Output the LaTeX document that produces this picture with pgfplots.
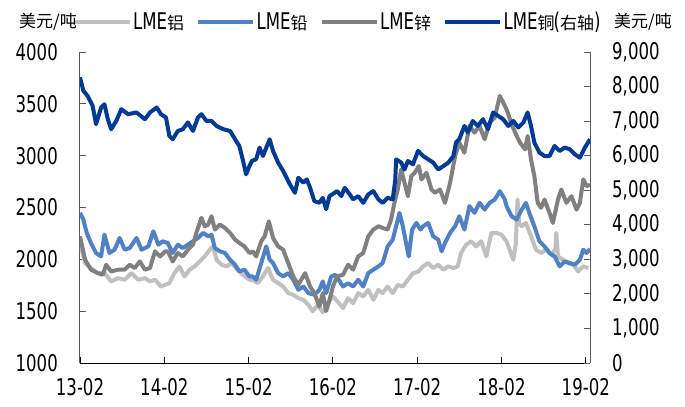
\documentclass[border=0pt]{standalone}
\usepackage{fontspec}
\setmainfont{DejaVu Sans}[FakeStretch=0.72]
\newfontfamily\cjk{Noto Sans CJK SC}
\usepackage{pgfplots}
\pgfplotsset{compat=1.18}
\usepackage{pgfplotstable}

\definecolor{alcol}{RGB}{192,192,192}
\definecolor{pbcol}{RGB}{79,129,196}
\definecolor{zncol}{RGB}{128,128,128}
\definecolor{cucol}{RGB}{0,58,150}
\definecolor{axcol}{RGB}{90,90,90}
\newcommand{\zh}[1]{{\fontsize{17bp}{19bp}\cjk #1}}

\pgfplotstableread{
t v
0.00 8265
0.04 7877
0.09 7730
0.15 7440
0.19 6910
0.25 7390
0.29 7490
0.33 7055
0.37 6765
0.43 7005
0.49 7345
0.57 7200
0.67 7250
0.77 7055
0.83 7250
0.91 7395
0.96 7200
1.02 7105
1.06 6570
1.10 6475
1.16 6715
1.22 6765
1.28 6960
1.34 6715
1.40 7105
1.44 7200
1.50 7005
1.56 7005
1.62 6860
1.70 6765
1.78 6715
1.84 6475
1.89 6280
1.93 5895
1.97 5460
2.01 5700
2.04 5850
2.09 5895
2.13 6235
2.17 5990
2.25 6475
2.29 6135
2.35 5800
2.41 5555
2.49 5170
2.55 4925
2.59 5360
2.65 5220
2.69 5315
2.73 5070
2.78 4685
2.84 4635
2.88 4780
2.92 4450
2.96 4830
3.02 4925
3.05 4975
3.10 4830
3.14 5070
3.20 4880
3.24 4735
3.30 4830
3.36 4635
3.42 4880
3.48 4975
3.54 4735
3.59 4635
3.65 4780
3.71 4735
3.74 5300
3.75 5895
3.81 5800
3.85 5600
3.89 5845
3.95 5750
4.01 6140
4.07 5990
4.13 5895
4.19 5800
4.25 5600
4.31 5700
4.37 5800
4.43 5990
4.46 6380
4.50 6475
4.56 6860
4.60 6670
4.66 7005
4.72 6860
4.78 7055
4.84 6765
4.90 7250
4.96 7150
5.02 7055
5.08 6860
5.14 7005
5.20 6815
5.26 6960
5.31 7250
5.35 6860
5.39 6380
5.45 6090
5.51 5990
5.57 5990
5.63 6280
5.69 6135
5.75 6235
5.81 6185
5.87 6040
5.93 5940
5.99 6235
6.05 6475
}\copper

\pgfplotstableread{
t v
0.00 2222
0.06 1996
0.13 1900
0.21 1867
0.27 1851
0.31 1948
0.37 1883
0.45 1900
0.53 1900
0.59 1948
0.65 1916
0.71 1980
0.77 1900
0.83 1916
0.89 2077
0.95 2028
1.01 2077
1.04 2077
1.10 1980
1.16 2061
1.22 2028
1.28 2093
1.34 2141
1.38 2255
1.44 2400
1.48 2319
1.52 2335
1.56 2416
1.60 2287
1.66 2335
1.72 2303
1.78 2255
1.84 2190
1.89 2158
1.95 2125
2.01 2061
2.05 2077
2.09 2028
2.15 2174
2.19 2222
2.24 2367
2.29 2206
2.35 2125
2.41 2093
2.47 1964
2.53 1835
2.59 1754
2.67 1867
2.73 1738
2.78 1674
2.84 1545
2.88 1674
2.92 1500
2.96 1609
3.00 1738
3.05 1835
3.12 1851
3.18 1948
3.24 1900
3.30 2028
3.36 2061
3.42 2222
3.48 2287
3.54 2319
3.59 2303
3.65 2287
3.69 2384
3.73 2545
3.77 2674
3.81 2867
3.85 2738
3.89 2609
3.93 2803
3.97 2835
4.02 2900
4.05 2771
4.11 2835
4.17 2674
4.21 2642
4.27 2674
4.33 2545
4.39 2738
4.45 2996
4.50 3126
4.56 3029
4.62 3287
4.68 3223
4.74 3287
4.80 3158
4.86 3320
4.92 3368
4.98 3577
5.04 3480
5.06 3448
5.12 3303
5.18 3190
5.22 3126
5.28 3061
5.31 3190
5.35 2964
5.39 2803
5.43 2545
5.47 2497
5.51 2577
5.57 2448
5.61 2351
5.67 2577
5.71 2674
5.77 2545
5.83 2609
5.89 2480
5.93 2545
5.97 2771
6.01 2706
6.05 2720
}\zinc

\pgfplotstableread{
t v
0.00 2448
0.04 2383
0.08 2255
0.13 2158
0.19 2061
0.25 2028
0.29 2238
0.35 2061
0.41 2093
0.47 2206
0.53 2093
0.59 2109
0.67 2206
0.73 2093
0.81 2125
0.87 2271
0.93 2141
0.98 2174
1.04 2158
1.10 2061
1.16 2141
1.22 2109
1.28 2141
1.34 2174
1.40 2206
1.46 2255
1.52 2222
1.56 2238
1.60 2109
1.66 2077
1.72 2061
1.78 1996
1.84 1948
1.89 1883
1.95 1900
2.01 1835
2.05 1835
2.09 1803
2.15 1964
2.21 2125
2.25 1996
2.29 1964
2.35 1867
2.41 1835
2.47 1867
2.53 1803
2.59 1706
2.65 1738
2.71 1674
2.78 1658
2.84 1706
2.88 1787
2.92 1674
2.98 1835
3.03 1851
3.12 1738
3.18 1770
3.24 1738
3.30 1803
3.36 1738
3.42 1867
3.48 1900
3.54 1932
3.59 1964
3.65 2125
3.71 2190
3.75 2319
3.79 2448
3.83 2319
3.86 2190
3.90 2028
3.94 2287
3.99 2351
4.04 2287
4.07 2319
4.13 2351
4.19 2222
4.25 2190
4.29 2077
4.33 2158
4.39 2255
4.45 2319
4.50 2416
4.56 2287
4.62 2513
4.68 2448
4.74 2545
4.80 2480
4.86 2545
4.92 2577
4.98 2658
5.04 2577
5.06 2513
5.12 2416
5.18 2383
5.24 2480
5.29 2545
5.33 2448
5.39 2319
5.45 2174
5.51 2125
5.57 2061
5.63 2028
5.69 1932
5.75 1980
5.81 1964
5.87 1948
5.93 1996
5.97 2093
6.01 2061
6.05 2100
}\lead

\pgfplotstableread{
t v
0.00 2158
0.06 1964
0.13 1916
0.21 1867
0.29 1867
0.37 1787
0.45 1819
0.53 1803
0.61 1867
0.69 1803
0.77 1819
0.83 1787
0.89 1803
0.96 1738
1.06 1770
1.12 1867
1.18 1930
1.24 1835
1.30 1900
1.36 1932
1.42 1980
1.48 2028
1.54 2093
1.58 2125
1.62 1996
1.68 1948
1.74 1932
1.80 1964
1.85 1916
1.93 1851
2.01 1803
2.05 1803
2.11 1770
2.17 1835
2.23 1916
2.29 1803
2.35 1770
2.41 1738
2.47 1674
2.53 1658
2.59 1626
2.65 1609
2.71 1561
2.76 1500
2.82 1560
2.88 1490
2.94 1580
3.00 1640
3.06 1590
3.12 1529
3.18 1626
3.24 1577
3.30 1674
3.36 1642
3.42 1706
3.48 1609
3.54 1706
3.59 1674
3.65 1738
3.71 1674
3.77 1754
3.83 1738
3.89 1803
3.95 1867
4.01 1880
4.07 1932
4.13 1964
4.19 1916
4.25 1948
4.31 1900
4.37 1932
4.43 1916
4.48 1932
4.52 2061
4.58 2141
4.64 2174
4.70 2125
4.76 2174
4.82 2028
4.88 2255
4.94 2255
5.00 2238
5.06 2174
5.14 1996
5.17 2150
5.19 2577
5.21 2350
5.24 2319
5.29 2351
5.35 2222
5.41 2093
5.47 2061
5.53 2093
5.59 2045
5.64 2100
5.65 2255
5.67 2028
5.73 1996
5.79 1964
5.85 1948
5.91 1883
5.97 1932
6.03 1916
}\alu

\begin{document}
\begin{tikzpicture}[font=\fontsize{23bp}{26bp}\selectfont]
\path[use as bounding box] (-80bp,-44bp) rectangle (605bp,363bp);
\begin{axis}[
  at={(0,0)}, anchor=south west,
  scale only axis, width=510bp, height=311bp,
  xmin=0, xmax=6.05, ymin=1000, ymax=4000,
  axis x line*=bottom, axis y line*=left,
  xtick pos=bottom, ytick pos=left,
  xtick={0,1,2,3,4,5,6},
  xticklabels={13-02,14-02,15-02,16-02,17-02,18-02,19-02},
  ytick={1000,1500,2000,2500,3000,3500,4000},
  tick align=inside, major tick length=6bp,
  x axis line style={black, line width=1bp, -},
  y axis line style={axcol, line width=1bp, -},
  xtick style={black, line width=0.8bp},
  ytick style={axcol, line width=0.8bp},
  yticklabel style={anchor=east, inner sep=0pt, xshift=-22bp},
  xticklabel style={anchor=north, inner sep=0pt, yshift=-15bp},
  /pgf/number format/assume math mode=true,
  /pgf/number format/1000 sep={},
  legend columns=4,
  legend style={at={(-0.0137,1.0965)}, anchor=west, draw=none, fill=none,
    inner sep=0pt, nodes={inner xsep=1.5bp, inner ysep=0bp},
    /tikz/every even column/.append style={column sep=11bp}},
  legend image code/.code={\draw[#1, line width=3.5bp] (0bp,0bp) -- (55bp,0bp);},
  every axis plot/.append style={line width=4bp, line join=round, no markers},
]
\addplot[alcol] table[x=t, y=v] {\alu};
\addlegendentry{LME\zh{铝}}
\addplot[pbcol] table[x=t, y=v] {\lead};
\addlegendentry{LME\zh{铅}}
\addplot[zncol] table[x=t, y=v] {\zinc};
\addlegendentry{LME\zh{锌}}
\addlegendimage{cucol, line width=3.5bp}
\addlegendentry{LME\zh{铜}\kern-1bp(\zh{右轴})}
\end{axis}
\begin{axis}[
  at={(0,0)}, anchor=south west,
  scale only axis, width=510bp, height=311bp,
  xmin=0, xmax=6.05, ymin=0, ymax=9000,
  axis x line=none, axis y line*=right,
  ytick pos=right,
  ytick={0,1000,2000,3000,4000,5000,6000,7000,8000,9000},
  tick align=inside, major tick length=6bp,
  y axis line style={axcol, line width=1bp, -},
  ytick style={axcol, line width=0.8bp},
  yticklabel style={anchor=west, inner sep=0pt, xshift=22bp},
  /pgf/number format/assume math mode=true,
  /pgf/number format/1000 sep={,},
  every axis plot/.append style={line width=4bp, line join=round, no markers},
]
\addplot[cucol] table[x=t, y=v] {\copper};
\end{axis}
\node[anchor=center, inner sep=0pt] at (-32bp,341bp) {\zh{美元/吨}};
\node[anchor=west, inner sep=0pt] at (534bp,341bp) {\zh{美元/吨}};
\end{tikzpicture}
\end{document}
